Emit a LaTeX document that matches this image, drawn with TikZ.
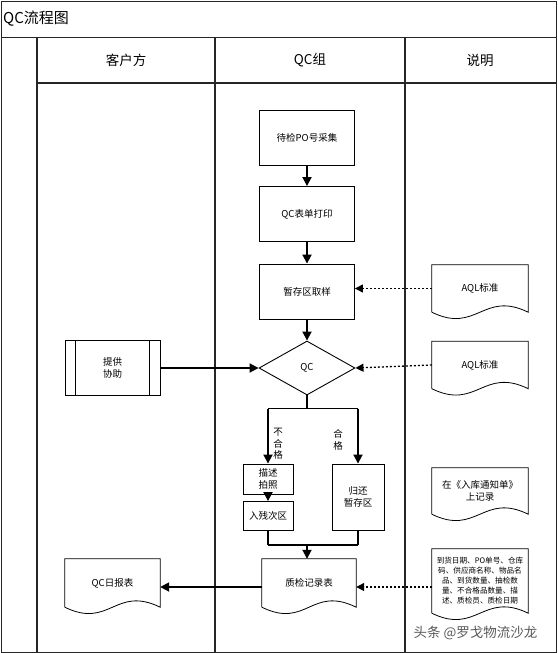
\documentclass[tikz,border=0pt]{standalone}
\usepackage{fontspec}
\newfontfamily\cjk{Noto Sans CJK SC}
\usetikzlibrary{arrows.meta,shapes.geometric,calc}
\tikzset{
  lane/.style={line width=1.5pt,black!85},
  frameline/.style={line width=0.9pt,black!85},
  proc/.style={draw,line width=0.9pt,minimum width=95pt,minimum height=55pt,inner sep=1pt,align=center},
  smallproc/.style={draw,line width=0.9pt,minimum width=50pt,inner sep=1pt,align=center},
  docbox/.style={minimum width=96pt,inner sep=1pt,align=center},
  docline/.style={line width=0.8pt},
  flow/.style={line width=1.8pt},
  flowarrow/.style={line width=1.8pt,-{Triangle[length=9pt,width=9pt]}},
  dasharrow/.style={line width=1.3pt,dash pattern=on 2pt off 2pt,-{Triangle[length=8pt,width=8pt]}},
  lbl/.style={inner sep=0pt,align=center},
}
\newcommand{\docdraw}[1]{\draw[docline] (#1.south west) -- (#1.north west) -- (#1.north east) -- (#1.south east) .. controls +(-45,-22) and +(45,22) .. (#1.south west);}
\begin{document}
\begin{tikzpicture}[x=1pt,y=-1pt,font=\cjk\fontsize{9.5}{11.5}\selectfont]
\useasboundingbox (0,0) rectangle (557,653);
% frame and lanes
\draw[frameline] (1,1) rectangle (556,652);
\draw[lane] (1,37.5) -- (556,37.5);
\draw[lane] (37,83) -- (556,83);
\draw[lane] (37,37.5) -- (37,652);
\draw[lane] (215,37.5) -- (215,652);
\draw[lane] (405,37.5) -- (405,652);
\node[anchor=west,inner sep=0pt,font=\cjk\fontsize{15}{17}\selectfont] (title) at (3,19) {QC流程图};
\node[font=\cjk\fontsize{13.5}{16}\selectfont] (h1) at (126,60) {客户方};
\node[font=\cjk\fontsize{13.5}{16}\selectfont] (h2) at (310,60) {QC组};
\node[font=\cjk\fontsize{13.5}{16}\selectfont] (h3) at (480,60) {说明};
% QC lane
\node[proc] (n1) at (307,137.5) {待检PO号采集};
\node[proc] (n2) at (307,214) {QC表单打印};
\node[proc] (n3) at (307,291.5) {暂存区取样};
\node[draw,diamond,line width=0.9pt,minimum width=96pt,minimum height=54pt,inner sep=0pt] (dec) at (307,368) {QC};
\node[smallproc,minimum height=30pt] (n4) at (268,479) {描述\\拍照};
\node[smallproc,minimum height=29pt] (n5) at (268,516) {入残次区};
\node[smallproc,minimum width=52pt,minimum height=66pt] (n6) at (358,497) {归还\\暂存区};
\node[docbox,minimum width=94pt,minimum height=48pt] (n7) at (309,583) {质检记录表};
\docdraw{n7}
\node[lbl] (l1) at (278,444) {不\\合\\格};
\node[lbl] (l2) at (338,440) {合\\格};
% customer lane
\node[proc] (n9) at (112.5,368) {提供\\协助};
\draw[line width=0.9pt] ([xshift=11pt]n9.north west) -- ([xshift=11pt]n9.south west);
\draw[line width=0.9pt] ([xshift=-11pt]n9.north east) -- ([xshift=-11pt]n9.south east);
\node[docbox,minimum width=95pt,minimum height=48pt] (n8) at (112.5,583) {QC日报表};
\docdraw{n8}
% notes lane
\node[docbox,minimum height=47pt] (a1) at (480,288.5) {AQL标准};
\docdraw{a1}
\node[docbox,minimum height=47pt] (a2) at (480,365) {AQL标准};
\docdraw{a2}
\node[docbox,minimum height=46pt] (a3) at (480,491) {在《入库通知单》\\上记录};
\docdraw{a3}
\node[docbox,minimum height=64pt,font=\cjk\fontsize{7.6}{10}\selectfont] (a4) at (480,581) {到货日期、PO单号、仓库\\码、供应商名称、物品名\\品、到货数量、抽检数\\量、不合格品数量、描\\述、质检员、质检日期};
\docdraw{a4}
% flow connectors
\draw[flowarrow] (n1) -- (n2);
\draw[flowarrow] (n2) -- (n3);
\draw[flowarrow] (n3) -- (dec);
\coordinate (br) at (307,408.5);
\draw[flow] (dec.south) -- (br);
\draw[flow] (n4.north |- br) -- (n6.north |- br);
\draw[flowarrow] (n4.north |- br) -- (n4.north);
\draw[flowarrow] (n6.north |- br) -- (n6.north);
\draw[flowarrow] (n4.south) -- (n5.north);
\coordinate (mg) at (307,545);
\draw[flow] (n5.south) -- (n5.south |- mg);
\draw[flow] (n6.south) -- (n6.south |- mg);
\draw[flow] (n5.south |- mg) -- (n6.south |- mg);
\draw[flowarrow] (mg) -- (mg |- n7.north);
\draw[flowarrow] (n9) -- (dec);
\draw[flowarrow] ([yshift=-4pt]n7.west) -- ([yshift=-4pt]n8.east);
\draw[dasharrow] (a1.west) -- (a1.west -| n3.east);
\draw[dasharrow] (a2.west) -- (dec.east);
\draw[dasharrow] ([yshift=-6pt]a4.west) -- ([yshift=-6pt]a4.west -| n7.east);
% watermark
\node[anchor=west,text=black!65,font=\cjk\fontsize{13.5}{16}\selectfont] (wm) at (410,633) {头条 @罗戈物流沙龙};
\end{tikzpicture}
\end{document}
